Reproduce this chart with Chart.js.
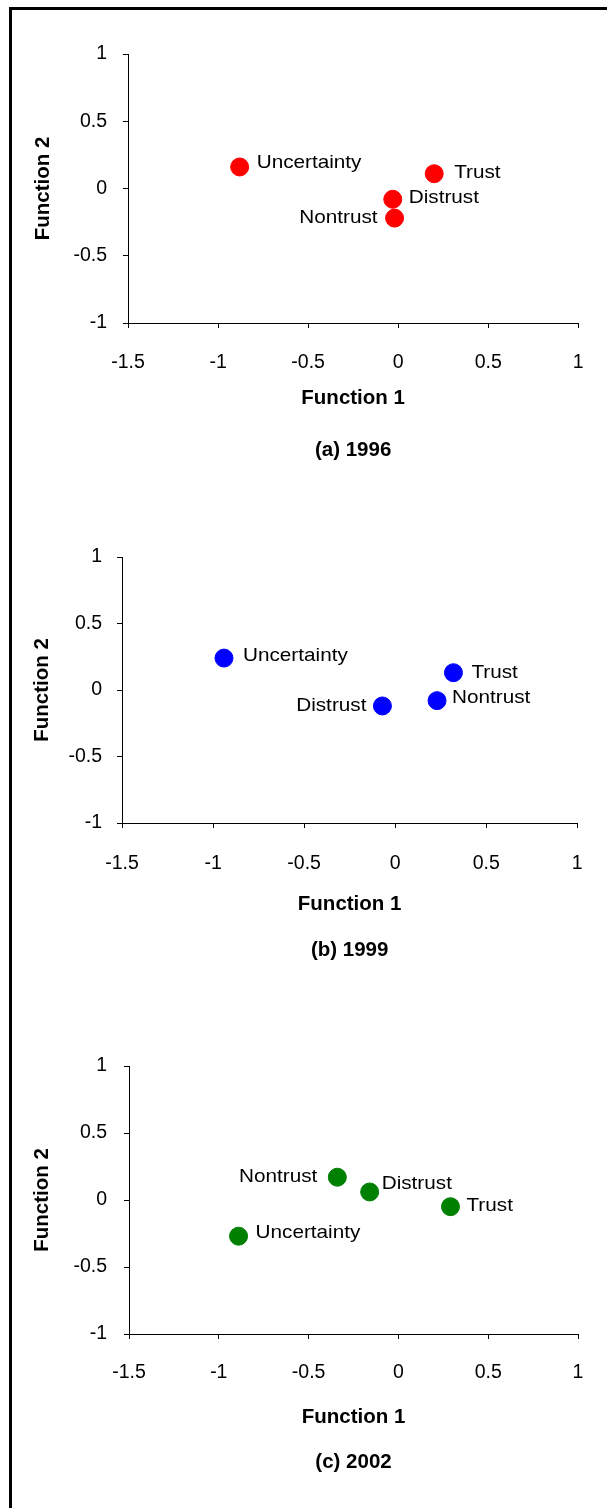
<!DOCTYPE html>
<html>
<head>
<meta charset="utf-8">
<script src="https://cdn.jsdelivr.net/npm/chart.js@4/dist/chart.umd.min.js"></script>
<style>
  body { margin: 0; background: #fff; width: 607px; height: 1508px; overflow: hidden; position: relative; }
  .frame { position: absolute; left: 9px; top: 7px; width: 700px; height: 1600px; border-left: 3px solid #000; border-top: 3px solid #000; }
  canvas { position: absolute; left: 0; }
</style>
</head>
<body>
<div class="frame"></div>
<canvas id="c1996" width="607" height="480" style="top:0px"></canvas>
<canvas id="c1999" width="607" height="500" style="top:490px"></canvas>
<canvas id="c2002" width="607" height="518" style="top:990px"></canvas>
<script>
// data
const categories = ['Uncertainty', 'Trust', 'Distrust', 'Nontrust']
const xTickValues = [-1.5, -1, -0.5, 0, 0.5, 1]
const xTickLabels = ['-1.5', '-1', '-0.5', '0', '0.5', '1']
const yTickValues = [-1, -0.5, 0, 0.5, 1]
const yTickLabels = ['-1', '-0.5', '0', '0.5', '1']

const f1_1996 = [-0.88, 0.20, -0.03, -0.02]
const f2_1996 = [0.16, 0.11, -0.08, -0.22]
const f1_1999 = [-0.94, 0.32, -0.07, 0.23]
const f2_1999 = [0.24, 0.13, -0.12, -0.08]
const f1_2002 = [-0.89, 0.29, -0.16, -0.34]
const f2_2002 = [-0.27, -0.05, 0.06, 0.17]

// where each label sits next to its dot (dx < 0 = left of the dot)
const labelDx1996 = [17, 20, 16, -17]
const labelDy1996 = [-4, -1, -1, 0]
const labelDx1999 = [19, 18, -16, 15]
const labelDy1999 = [-2, 0, 0, -3]
const labelDx2002 = [17, 16, 12, -20]
const labelDy2002 = [-3, -1, -8, 0]

Chart.defaults.font.family = '"Liberation Sans", Arial, sans-serif'
Chart.defaults.color = '#000'

const tickFont = { size: 19.5 }
const titleFont = { size: 20.5, weight: 'bold' }
const labelFont = '18.5px "Liberation Sans", Arial, sans-serif'
const labelStretch = 1.12   // the source text is a bit wider than Arial
const TICK_LEN = 5

const pointLabels = {
  id: 'pointLabels',
  afterDatasetsDraw(chart, args, opts) {
    const c = chart.ctx
    const meta = chart.getDatasetMeta(0)
    meta.data.forEach((pt, i) => {
      const dx = opts.dx[i]
      c.save()
      c.font = labelFont
      c.fillStyle = '#000'
      c.textBaseline = 'middle'
      c.textAlign = dx < 0 ? 'right' : 'left'
      c.translate(pt.x + dx, pt.y + opts.dy[i])
      c.scale(labelStretch, 1)
      c.fillText(opts.labels[i], 0, 0)
      c.restore()
    })
  }
}

// p: target pixel positions inside the canvas
const crearPanel = (id, fx, fy, color, caption, dx, dy, p) => {
  const lhTitle = titleFont.size * 1.2
  const lhTick = tickFont.size * 1.2
  const captionPad = p.height - p.captionY - lhTitle / 2
  const captionBox = lhTitle + captionPad
  const xAxisH = p.height - captionBox - p.areaBottom

  return new Chart(document.getElementById(id), {
    type: 'scatter',
    data: {
      labels: categories,
      datasets: [{
        data: fx.map((v, i) => ({ x: v, y: fy[i] })),
        backgroundColor: color,
        borderColor: color,
        pointRadius: 9,
        pointHoverRadius: 9
      }]
    },
    options: {
      responsive: false,
      animation: false,
      devicePixelRatio: 1,
      layout: { padding: { top: p.areaTop, right: 607 - p.areaRight, bottom: 0, left: 0 } },
      plugins: {
        legend: { display: false },
        tooltip: { enabled: false },
        title: {
          display: true,
          text: caption,
          position: 'bottom',
          fullSize: false,
          font: titleFont,
          color: '#000',
          padding: { top: 0, bottom: captionPad }
        },
        pointLabels: { labels: categories, dx: dx, dy: dy }
      },
      scales: {
        x: {
          type: 'linear',
          min: -1.5,
          max: 1,
          afterBuildTicks: s => { s.ticks = xTickValues.map(v => ({ value: v })) },
          afterFit: s => { s.height = xAxisH },
          ticks: {
            font: tickFont,
            padding: p.tickY - p.areaBottom - TICK_LEN - lhTick / 2,
            callback: (v, i) => xTickLabels[i]
          },
          grid: { drawOnChartArea: false, tickLength: TICK_LEN, color: '#000' },
          border: { color: '#000', width: 1 },
          title: {
            display: true,
            text: 'Function 1',
            font: titleFont,
            padding: { top: 0, bottom: xAxisH - (p.xTitleY - p.areaBottom) - lhTitle / 2 }
          }
        },
        y: {
          type: 'linear',
          min: -1,
          max: 1,
          afterBuildTicks: s => { s.ticks = yTickValues.map(v => ({ value: v })) },
          afterFit: s => { s.width = p.areaLeft },
          ticks: {
            font: tickFont,
            padding: p.areaLeft - TICK_LEN - p.yTickRight,
            callback: (v, i) => yTickLabels[i]
          },
          grid: { drawOnChartArea: false, tickLength: TICK_LEN, color: '#000' },
          border: { color: '#000', width: 1 },
          title: {
            display: true,
            text: 'Function 2',
            font: titleFont,
            padding: { top: p.yTitleX - lhTitle / 2, bottom: 0 }
          }
        }
      }
    },
    plugins: [pointLabels]
  })
}

crearPanel('c1996', f1_1996, f2_1996, '#ff0000', '(a) 1996', labelDx1996, labelDy1996, {
  height: 480, areaTop: 54, areaBottom: 323, areaLeft: 128, areaRight: 582,
  tickY: 363, xTitleY: 398, captionY: 450, yTitleX: 43, yTickRight: 107
})
crearPanel('c1999', f1_1999, f2_1999, '#0000ff', '(b) 1999', labelDx1999, labelDy1999, {
  height: 500, areaTop: 67, areaBottom: 333, areaLeft: 122, areaRight: 580,
  tickY: 374, xTitleY: 414, captionY: 460, yTitleX: 42, yTickRight: 102
})
crearPanel('c2002', f1_2002, f2_2002, '#008000', '(c) 2002', labelDx2002, labelDy2002, {
  height: 518, areaTop: 76, areaBottom: 344, areaLeft: 129, areaRight: 578,
  tickY: 383, xTitleY: 427, captionY: 472, yTitleX: 42, yTickRight: 107
})
</script>
</body>
</html>
